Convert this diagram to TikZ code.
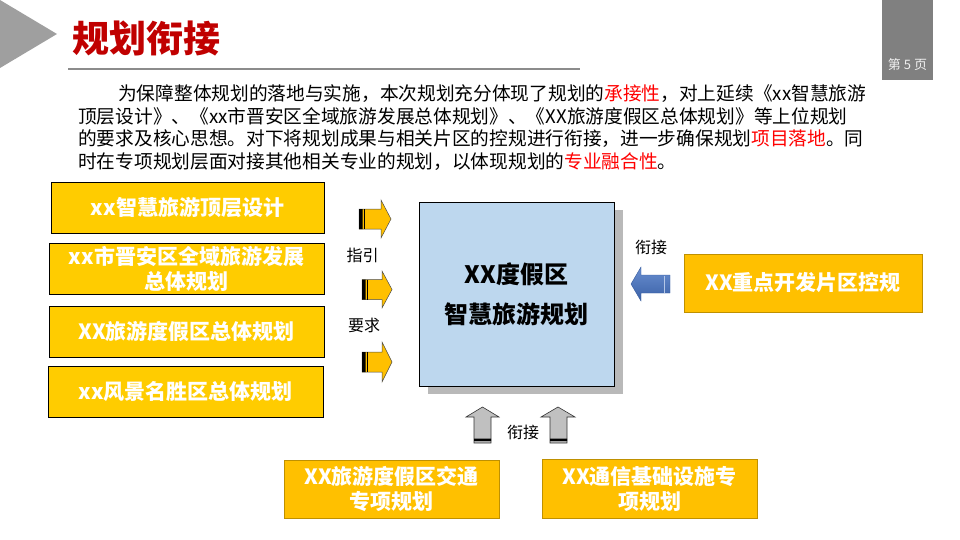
\documentclass[tikz,border=0pt]{standalone}
\usepackage{fontspec}
\setmainfont{Noto Sans CJK SC}
\usetikzlibrary{shadows}
\definecolor{titlered}{HTML}{C00000}
\definecolor{boxyellow}{HTML}{FFCC00}
\definecolor{boxgold}{HTML}{FFC000}
\definecolor{goldline}{HTML}{BF9000}
\definecolor{coreblue}{HTML}{BDD7EE}
\definecolor{pagegray}{HTML}{808080}
\definecolor{arrowblue}{HTML}{4472C4}
\definecolor{arrowgray}{HTML}{C0C0C0}
\tikzset{
  leftbox/.style={draw=black,fill=boxyellow,text=white,font=\fontsize{21}{25}\selectfont\bfseries,minimum width=275,minimum height=51,align=center,inner sep=0},
  goldbox/.style={draw=goldline,fill=boxgold,text=white,font=\fontsize{21}{25}\selectfont\bfseries,minimum width=215,minimum height=58,align=center,inner sep=0},
  cue/.style={font=\fontsize{16}{18}\selectfont,inner sep=0},
  textline/.style={anchor=west,inner sep=0,font=\fontsize{18.7}{22}\selectfont},
  yarrow/.style={draw=black!70,fill=boxgold,line width=0.5},
  garrow/.style={draw=black!80,fill=arrowgray,line width=0.6}
}
\begin{document}
\begin{tikzpicture}[x=1pt,y=-1pt,line join=miter]
\useasboundingbox (0,0) rectangle (960,540);
% header
\fill[gray!75] (0,0) -- (57,34) -- (0,68) -- cycle;
\node[anchor=west,inner sep=0,text=titlered,font=\fontsize{37}{40}\selectfont\bfseries] (title) at (72,38) {规划衔接};
\draw[gray!90,line width=2] (68,69) -- (580,69);
\fill[pagegray] (882,0) rectangle (933,80);
\node[text=white!88!gray,font=\fontsize{13}{15}\selectfont,inner sep=0] (page) at (907.5,65) {第 5 页};
% paragraph
\node[textline] (p1) at (118,94) {为保障整体规划的落地与实施，本次规划充分体现了规划的\textcolor{red}{承接性}，对上延续《xx智慧旅游};
\node[textline] (p2) at (78,116.5) {顶层设计》、《xx市晋安区全域旅游发展总体规划》、《XX旅游度假区总体规划》等上位规划};
\node[textline] (p3) at (78,139) {的要求及核心思想。对下将规划成果与相关片区的控规进行衔接，进一步确保规划\textcolor{red}{项目落地}。同};
\node[textline] (p4) at (78,161.5) {时在专项规划层面对接其他相关专业的规划，以体现规划的\textcolor{red}{专业融合性}。};
% upper plans
\node[leftbox,minimum width=273] (top) at (187.5,207.5) {xx智慧旅游顶层设计};
\node[leftbox] (city) at (186.5,268.5) {xx市晋安区全域旅游发展\\总体规划};
\node[leftbox] (resort) at (186.5,331.5) {XX旅游度假区总体规划};
\node[leftbox] (scenic) at (185.5,391.5) {xx风景名胜区总体规划};
% yellow arrows
\draw[yarrow,shift={(359,219)}] (0,-10) -- (22,-10) -- (22,-19) -- (32,0) -- (22,19) -- (22,10) -- (0,10) -- cycle;
\draw[yarrow,shift={(362,289.5)}] (0,-10) -- (20,-10) -- (20,-18.5) -- (30,0) -- (20,18.5) -- (20,10) -- (0,10) -- cycle;
\draw[yarrow,shift={(362,362)}] (0,-10) -- (20,-10) -- (20,-20) -- (30,0) -- (20,20) -- (20,10) -- (0,10) -- cycle;
\fill (359,209) rectangle (362.5,229) (362,279.5) rectangle (365.5,299.5) (362,352) rectangle (365.5,372);
\draw[line width=0.8] (364.3,209) -- (364.3,229) (367.3,279.5) -- (367.3,299.5) (367.3,352) -- (367.3,372);
\node[cue] (guide) at (362.5,255) {指引};
\node[cue] (need) at (364,325) {要求};
% core plan
\node[draw=black,fill=coreblue,minimum width=195,minimum height=184,inner sep=0,align=center,
  font=\fontsize{24}{40}\selectfont\bfseries,
  drop shadow={shadow xshift=9pt,shadow yshift=-8pt,fill=gray!55,opacity=1}] (core) at (516.5,294) {XX度假区\\智慧旅游规划};
% control plan
\node[goldbox,minimum width=238] (ctrl) at (803,283) {XX重点开发片区控规};
\node[cue] (link1) at (651,247) {衔接};
\draw[draw=arrowblue!80!black,top color=arrowblue!80!white,bottom color=arrowblue!85!black,line width=0.4]
  (631,284) -- (641,267) -- (641,275) -- (670,275) -- (670,293) -- (641,293) -- (641,301) -- cycle;
\draw[white!60!arrowblue,line width=0.8] (664,275.5) -- (664,292.5);
% special plans
\node[goldbox] (traffic) at (391.5,489) {XX旅游度假区交通\\专项规划};
\node[goldbox,minimum height=59] (telecom) at (649.5,488.5) {XX通信基础设施专\\项规划};
\draw[garrow] (482.5,407) -- (499,417) -- (491,417) -- (491,443) -- (474,443) -- (474,417) -- (466,417) -- cycle;
\draw[garrow] (558,407) -- (575,417) -- (567,417) -- (567,443) -- (550,443) -- (550,417) -- (541,417) -- cycle;
\fill (474,438.5) rectangle (491,441) (550,438.5) rectangle (567,441);
\node[cue] (link2) at (523,432) {衔接};
\end{tikzpicture}
\end{document}
